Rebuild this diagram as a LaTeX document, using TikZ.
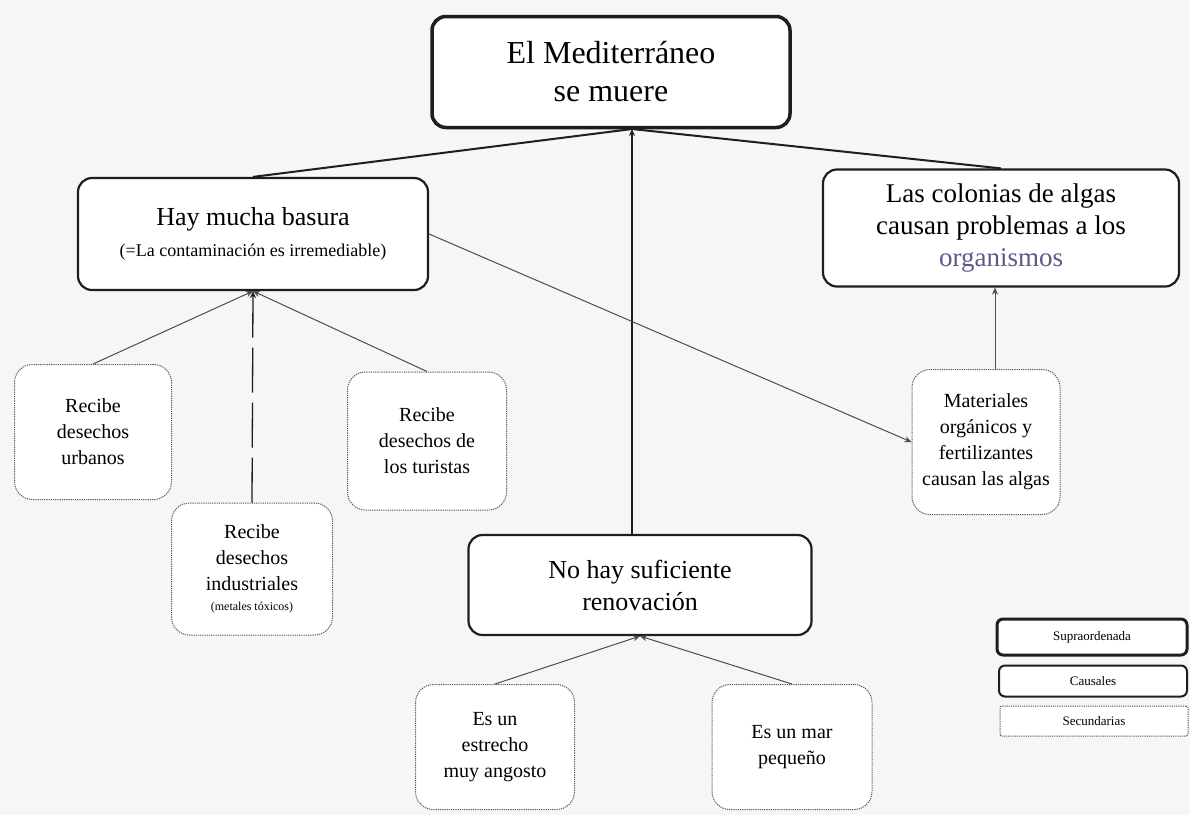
\documentclass[tikz,border=0pt]{standalone}
\usepackage{fontspec}
\setmainfont{Liberation Serif}
\usetikzlibrary{arrows.meta}
\definecolor{bg}{RGB}{246,246,246}
\definecolor{ink}{RGB}{30,30,30}
\definecolor{orgc}{RGB}{95,90,140}
\tikzset{
  supra/.style={draw=ink, line width=3.5pt, rounded corners=14pt, fill=white, align=center, inner sep=2pt},
  causal/.style={draw=ink, line width=2.2pt, rounded corners=14pt, fill=white, align=center, inner sep=2pt},
  secund/.style={draw=gray!70!black, line width=1pt, dash pattern=on 1.2pt off 1pt, rounded corners=18pt, fill=white, align=center, inner sep=2pt, font=\fontsize{20}{26}\selectfont},
  mainlink/.style={draw=ink, line width=2pt},
  sublink/.style={draw=gray!60!black, line width=1pt},
  tip/.style={-{Stealth[length=7pt,width=6pt]}},
}
\begin{document}
\begin{tikzpicture}[x=1pt,y=-1pt]
\useasboundingbox[fill=bg] (0,0) rectangle (1190,815);

% main boxes
\node[supra, minimum width=358pt, minimum height=111pt, font=\fontsize{32}{38}\selectfont] (top) at (611,72) {El Mediterráneo\\se muere};
\node[causal, minimum width=350pt, minimum height=112pt] (hay) at (253,234)
  {{\fontsize{26}{30}\selectfont Hay mucha basura}\\[12pt]{\fontsize{18}{20}\selectfont (=La contaminación es irremediable)}};
\node[causal, minimum width=356pt, minimum height=117pt, font=\fontsize{27}{32}\selectfont] (alg) at (1001,228)
  {Las colonias de algas\\causan problemas a los\\\textcolor{orgc}{organismos}};
\node[causal, minimum width=343pt, minimum height=100pt, font=\fontsize{26}{32}\selectfont] (nohay) at (640,585)
  {No hay suficiente\\renovación};

% secondary boxes
\node[secund, minimum width=157pt, minimum height=135pt] (urb) at (93,432) {Recibe\\desechos\\urbanos};
\node[secund, minimum width=159pt, minimum height=138pt] (tur) at (427,441) {Recibe\\desechos de\\los turistas};
\node[secund, minimum width=161pt, minimum height=132pt] (ind) at (252,569)
  {Recibe\\desechos\\industriales\\[-6pt]{\fontsize{12}{14}\selectfont (metales tóxicos)}};
\node[secund, minimum width=148pt, minimum height=145pt] (mat) at (986,442)
  {Materiales\\orgánicos y\\fertilizantes\\causan las algas};
\node[secund, minimum width=159pt, minimum height=125pt] (est) at (495,747) {Es un\\estrecho\\muy angosto};
\node[secund, minimum width=160pt, minimum height=125pt] (peq) at (792,747) {Es un mar\\pequeño};

% legend
\node[supra, line width=3pt, rounded corners=6pt, minimum width=190pt, minimum height=36pt, font=\fontsize{13}{15}\selectfont] (lsup) at (1092,637) {Supraordenada};
\node[causal, line width=2pt, rounded corners=6pt, minimum width=188pt, minimum height=31pt, font=\fontsize{13}{15}\selectfont] (lcau) at (1093,681) {Causales};
\node[secund, rounded corners=2pt, minimum width=188pt, minimum height=30pt, font=\fontsize{13}{15}\selectfont] (lsec) at (1094,721) {Secundarias};

% connectors
\coordinate (topin) at (632,129);
\draw[mainlink] (hay.north) -- (topin);
\draw[mainlink] (topin) -- (alg.north);
\draw[mainlink, tip] (nohay.north -| topin) -- (topin);

\draw[sublink, tip] (urb.north) -- (hay.south);
\draw[sublink, tip] (tur.north) -- (hay.south);
\draw[draw=ink, line width=1.3pt, dash pattern=on 45pt off 10pt, tip] (ind.north) -- (hay.south);

\draw[sublink, tip] (hay.east) -- (mat.west);
\draw[sublink, tip] ([xshift=9pt]mat.north) -- ([xshift=9pt]mat.north |- alg.south);

\draw[sublink, tip] (est.north) -- (nohay.south);
\draw[sublink, tip] (peq.north) -- (nohay.south);
\end{tikzpicture}
\end{document}
